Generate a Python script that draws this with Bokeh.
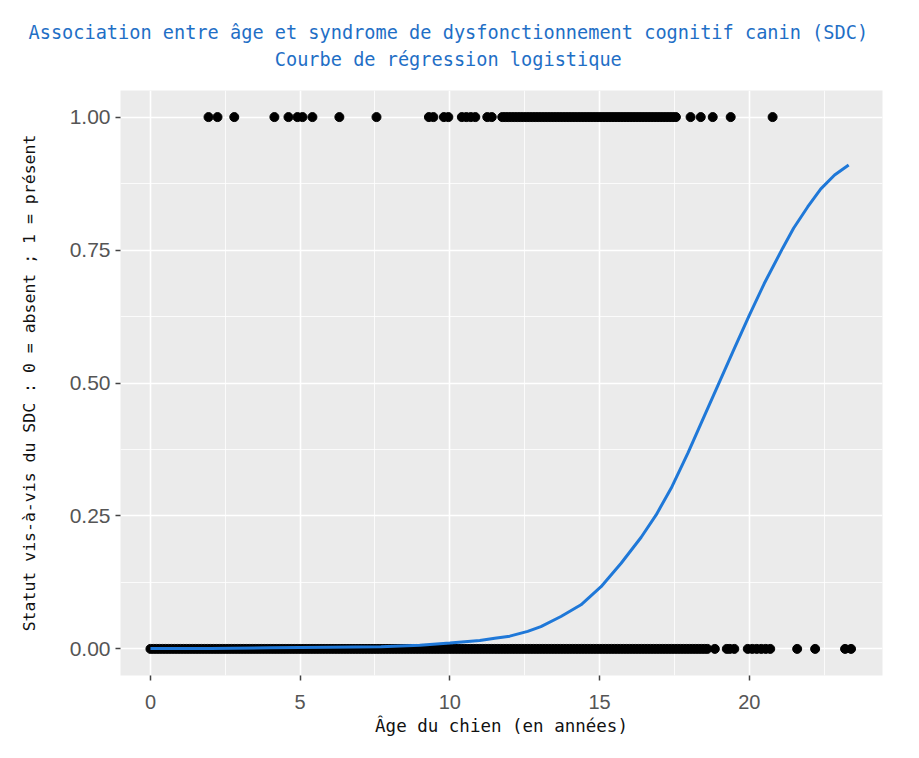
from bokeh.plotting import figure
from bokeh.models import Range1d, FixedTicker
from bokeh.embed import file_html
from bokeh.resources import INLINE

title_line1 = "Association entre âge et syndrome de dysfonctionnement cognitif canin (SDC)"
title_line2 = "Courbe de régression logistique"
x_label = "Âge du chien (en années)"
y_label = "Statut vis-à-vis du SDC : 0 = absent ; 1 = présent"

x_ticks = [0, 5, 10, 15, 20]
x_tick_labels = ["0", "5", "10", "15", "20"]
x_minor = [2.5, 7.5, 12.5, 17.5, 22.5]
y_ticks = [0.0, 0.25, 0.5, 0.75, 1.0]
y_tick_labels = ["0.00", "0.25", "0.50", "0.75", "1.00"]
y_minor = [0.125, 0.375, 0.625, 0.875]

# ages of dogs without SDC (status 0)
ages_absent = [
    0.0, 0.1, 0.2, 0.3, 0.4, 0.5, 0.6, 0.7, 0.8, 0.9,
    1.0, 1.1, 1.2, 1.3, 1.4, 1.5, 1.6, 1.7, 1.8, 1.9,
    2.0, 2.1, 2.2, 2.3, 2.4, 2.5, 2.6, 2.7, 2.8, 2.9,
    3.0, 3.1, 3.2, 3.3, 3.4, 3.5, 3.6, 3.7, 3.8, 3.9,
    4.0, 4.1, 4.2, 4.3, 4.4, 4.5, 4.6, 4.7, 4.8, 4.9,
    5.0, 5.1, 5.2, 5.3, 5.4, 5.5, 5.6, 5.7, 5.8, 5.9,
    6.0, 6.1, 6.2, 6.3, 6.4, 6.5, 6.6, 6.7, 6.8, 6.9,
    7.0, 7.1, 7.2, 7.3, 7.4, 7.5, 7.6, 7.7, 7.8, 7.9,
    8.0, 8.1, 8.2, 8.3, 8.4, 8.5, 8.6, 8.7, 8.8, 8.9,
    9.0, 9.1, 9.2, 9.3, 9.4, 9.5, 9.6, 9.7, 9.8, 9.9,
    10.0, 10.1, 10.2, 10.3, 10.4, 10.5, 10.6, 10.7, 10.8, 10.9,
    11.0, 11.1, 11.2, 11.3, 11.4, 11.5, 11.6, 11.7, 11.8, 11.9,
    12.0, 12.1, 12.2, 12.3, 12.4, 12.5, 12.6, 12.7, 12.8, 12.9,
    13.0, 13.1, 13.2, 13.3, 13.4, 13.5, 13.6, 13.7, 13.8, 13.9,
    14.0, 14.1, 14.2, 14.3, 14.4, 14.5, 14.6, 14.7, 14.8, 14.9,
    15.0, 15.1, 15.2, 15.3, 15.4, 15.5, 15.6, 15.7, 15.8, 15.9,
    16.0, 16.1, 16.2, 16.3, 16.4, 16.5, 16.6, 16.7, 16.8, 16.9,
    17.0, 17.1, 17.2, 17.3, 17.4, 17.5, 17.6, 17.7, 17.8, 17.9,
    18.0, 18.1, 18.2, 18.3, 18.4, 18.5, 18.6,
    18.85, 19.25, 19.35, 19.5, 19.95, 20.1, 20.25, 20.4, 20.55, 20.7,
    21.6, 22.2, 23.2, 23.4,
]
status_absent = [0] * len(ages_absent)

# ages of dogs with SDC (status 1)
ages_present = [
    1.94, 2.24, 2.80, 4.14, 4.61, 4.91, 5.08, 5.41, 6.31, 7.55,
    9.3, 9.45, 9.8, 9.95, 10.4, 10.55, 10.7, 10.85, 11.25, 11.4,
    11.75, 11.85, 11.95,
    12.05, 12.15, 12.25, 12.35, 12.45, 12.55, 12.65, 12.75, 12.85, 12.95,
    13.05, 13.15, 13.25, 13.35, 13.45, 13.55, 13.65, 13.75, 13.85, 13.95,
    14.05, 14.15, 14.25, 14.35, 14.45, 14.55, 14.65, 14.75, 14.85, 14.95,
    15.05, 15.15, 15.25, 15.35, 15.45, 15.55, 15.65, 15.75, 15.85, 15.95,
    16.05, 16.15, 16.25, 16.35, 16.45, 16.55, 16.65, 16.75, 16.85, 16.95,
    17.05, 17.15, 17.25, 17.35, 17.45, 17.55,
    18.04, 18.38, 18.78, 19.38, 20.78,
]
status_present = [1] * len(ages_present)

# fitted logistic curve
curve_age = [0.0, 2.0, 4.0, 6.0, 7.7, 9.0, 10.0, 11.0, 11.5, 12.0, 12.6,
             13.04, 13.71, 14.38, 15.05, 15.72, 16.39, 16.89, 17.39, 17.95,
             18.39, 18.95, 19.51, 20.0, 20.5, 21.12, 21.48, 21.95, 22.39,
             22.85, 23.32]
curve_prob = [0.001, 0.001, 0.002, 0.003, 0.004, 0.007, 0.011, 0.016, 0.020,
              0.024, 0.033, 0.042, 0.061, 0.083, 0.117, 0.161, 0.210, 0.252,
              0.302, 0.368, 0.424, 0.495, 0.566, 0.627, 0.687, 0.754, 0.791,
              0.831, 0.865, 0.891, 0.910]

p = figure(frame_width=762, frame_height=585,
           x_range=Range1d(-1.0, 24.45), y_range=Range1d(-0.05, 1.05),
           output_backend="svg", toolbar_location=None,
           min_border_left=120, min_border_right=21,
           min_border_top=90, min_border_bottom=66)

p.background_fill_color = "#EBEBEB"
p.border_fill_color = "white"
p.outline_line_color = None

title_font = "DejaVu Sans Mono"
title_color = "#1f6fc6"
# second line is indented with no-break spaces so that it is centred under the first
p.title.text = title_line1 + "\n" + "\u00a0" * 22 + title_line2
p.title.align = "left"
p.title.offset = -92
p.title.standoff = 40
p.title.text_line_height = 1.3
p.title.text_font = title_font
p.title.text_font_size = "18.6px"
p.title.text_font_style = "normal"
p.title.text_color = title_color

p.xaxis.ticker = FixedTicker(ticks=x_ticks, minor_ticks=x_minor)
p.yaxis.ticker = FixedTicker(ticks=y_ticks, minor_ticks=y_minor)
p.xaxis.major_label_overrides = dict(zip(x_ticks, x_tick_labels))
p.yaxis.major_label_overrides = dict(zip(y_ticks, y_tick_labels))

for ax in (p.xaxis, p.yaxis):
    ax.axis_line_color = None
    ax.major_tick_line_color = "#444444"
    ax.major_tick_line_width = 1.5
    ax.major_tick_in = 0
    ax.major_tick_out = 5
    ax.minor_tick_line_color = None
    ax.major_label_text_font = "Liberation Sans"
    ax.major_label_text_color = "#555555"
    ax.axis_label_text_font = title_font
    ax.axis_label_text_font_style = "normal"
    ax.axis_label_text_color = "#111111"

p.xaxis.major_label_text_font_size = "20px"
p.yaxis.major_label_text_font_size = "21px"
p.xaxis.axis_label_text_font_size = "17.5px"
p.yaxis.axis_label_text_font_size = "16.5px"
p.xaxis.axis_label = x_label
p.yaxis.axis_label = y_label
p.xaxis.major_label_standoff = 14
p.yaxis.major_label_standoff = 5
p.xaxis.axis_label_standoff = 4
p.yaxis.axis_label_standoff = 28

for g in (p.xgrid, p.ygrid):
    g.grid_line_color = "white"
    g.grid_line_width = 1.6
    g.minor_grid_line_color = "white"
    g.minor_grid_line_width = 0.8

p.scatter(ages_absent, status_absent, size=9, color="black")
p.scatter(ages_present, status_present, size=9, color="black")
p.line(curve_age, curve_prob, line_width=3, color="#1f78d8")

open("out.html", "w").write(file_html(p, INLINE))
